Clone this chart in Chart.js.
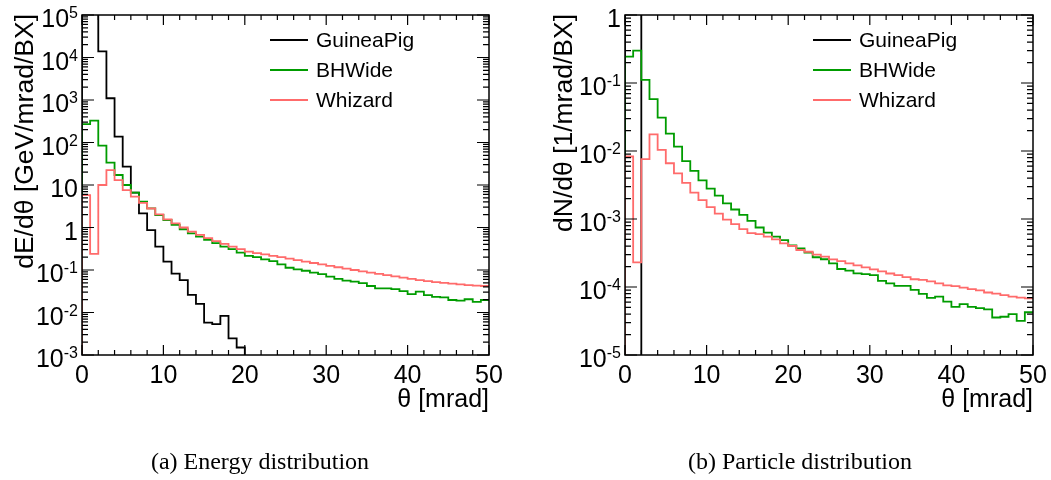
<!DOCTYPE html>
<html>
<head>
<meta charset="utf-8">
<script src="https://cdn.jsdelivr.net/npm/chart.js@4"></script>
<style>
  body { margin: 0; background: #fff; width: 1051px; height: 480px; position: relative; overflow: hidden; }
  canvas { position: absolute; top: 0; }
  #energyChart { left: 0; }
  #particleChart { left: 525px; }
  .caption { position: absolute; top: 448px; width: 400px; text-align: center;
             font: 24px "Liberation Serif", "Times New Roman", serif; line-height: 27px; color: #000; }
</style>
</head>
<body>
<canvas id="energyChart" width="525" height="480"></canvas>
<canvas id="particleChart" width="526" height="480"></canvas>
<div class="caption" style="left:60px">(a) Energy distribution</div>
<div class="caption" style="left:600px">(b) Particle distribution</div>

<script>
// bin edges in mrad (50 bins of 1 mrad)
const thetaEdges = [0, 1, 2, 3, 4, 5, 6, 7, 8, 9, 10, 11, 12, 13, 14, 15, 16, 17, 18, 19, 20,
  21, 22, 23, 24, 25, 26, 27, 28, 29, 30, 31, 32, 33, 34, 35, 36, 37, 38, 39, 40,
  41, 42, 43, 44, 45, 46, 47, 48, 49, 50];
const thetaTicks = [0, 10, 20, 30, 40, 50];

const seriesNames = ['GuineaPig', 'BHWide', 'Whizard'];
const seriesColors = ['#000000', '#009c00', '#ff6b6b'];

// empty bins: log axis cannot show 0, so they sit far below the frame
const EMPTY = 1e-12;

// (a) dE/dtheta [GeV/mrad/BX]
const energyGuineaPig = [3e5, 2e5, 1.4e4, 1.1e3, 138, 27, 6.6, 2.15, 0.87, 0.355,
  0.158, 0.082, 0.058, 0.026, 0.0159, 0.0058, 0.0053, 0.0083, 0.00245, 0.0015,
  EMPTY, EMPTY, EMPTY, EMPTY, EMPTY, EMPTY, EMPTY, EMPTY, EMPTY, EMPTY,
  EMPTY, EMPTY, EMPTY, EMPTY, EMPTY, EMPTY, EMPTY, EMPTY, EMPTY, EMPTY,
  EMPTY, EMPTY, EMPTY, EMPTY, EMPTY, EMPTY, EMPTY, EMPTY, EMPTY, EMPTY];
const energyBHWide = [272, 326, 84, 33.5, 17.2, 10, 6.6, 4.07, 2.83, 1.97,
  1.5, 1.15, 0.91, 0.73, 0.61, 0.51, 0.43, 0.355, 0.31, 0.257,
  0.215, 0.2, 0.178, 0.162, 0.136, 0.113, 0.104, 0.096, 0.087, 0.08,
  0.07, 0.062, 0.056, 0.053, 0.049, 0.042, 0.037, 0.037, 0.0355, 0.032,
  0.027, 0.031, 0.0257, 0.0234, 0.0228, 0.0197, 0.019, 0.0205, 0.0178, 0.0197];
const energyWhizard = [5.8, 0.24, 10, 22.5, 13, 7.6, 5.3, 3.8, 2.8, 2.04,
  1.55, 1.25, 1.0, 0.8, 0.67, 0.56, 0.48, 0.41, 0.355, 0.31,
  0.27, 0.25, 0.232, 0.215, 0.2, 0.185, 0.17, 0.158, 0.146, 0.135,
  0.125, 0.116, 0.108, 0.1, 0.093, 0.087, 0.081, 0.076, 0.071, 0.066,
  0.062, 0.058, 0.055, 0.052, 0.05, 0.048, 0.046, 0.044, 0.043, 0.042];
const energyTicks = [1e-3, 1e-2, 1e-1, 1, 10, 1e2, 1e3, 1e4, 1e5];
const energyTickLabels = ['10^-3', '10^-2', '10^-1', '1', '10', '10^2', '10^3', '10^4', '10^5'];

// (b) dN/dtheta [1/mrad/BX]
const particleGuineaPig = [2, 2, EMPTY, EMPTY, EMPTY, EMPTY, EMPTY, EMPTY, EMPTY, EMPTY,
  EMPTY, EMPTY, EMPTY, EMPTY, EMPTY, EMPTY, EMPTY, EMPTY, EMPTY, EMPTY,
  EMPTY, EMPTY, EMPTY, EMPTY, EMPTY, EMPTY, EMPTY, EMPTY, EMPTY, EMPTY,
  EMPTY, EMPTY, EMPTY, EMPTY, EMPTY, EMPTY, EMPTY, EMPTY, EMPTY, EMPTY,
  EMPTY, EMPTY, EMPTY, EMPTY, EMPTY, EMPTY, EMPTY, EMPTY, EMPTY, EMPTY];
const particleBHWide = [0.244, 0.3, 0.111, 0.058, 0.031, 0.018, 0.0116, 0.0071, 0.0051, 0.0037,
  0.0028, 0.0022, 0.0017, 0.00138, 0.00115, 0.00094, 0.00075, 0.00063, 0.00055, 0.00049,
  0.00041, 0.00037, 0.00032, 0.000274, 0.000256, 0.000223, 0.000184, 0.000174, 0.000159, 0.000155,
  0.00015, 0.000123, 0.000113, 0.000104, 0.000104, 0.000091, 0.000079, 0.000069, 0.000072, 0.000061,
  0.000051, 0.000056, 0.000051, 0.000049, 0.000047, 0.0000356, 0.0000365, 0.00004, 0.0000318, 0.0000425];
const particleWhizard = [0.0083, 0.00023, 0.0076, 0.0176, 0.0104, 0.0066, 0.0047, 0.0034, 0.00245, 0.0019,
  0.00149, 0.0012, 0.00098, 0.00084, 0.00071, 0.00062, 0.0006, 0.00055, 0.000502, 0.000439,
  0.000401, 0.00035, 0.00033, 0.000299, 0.000279, 0.000255, 0.00024, 0.000223, 0.000208, 0.000194,
  0.000182, 0.00017, 0.000158, 0.000149, 0.00014, 0.00013, 0.000127, 0.000121, 0.000113, 0.000106,
  0.000103, 0.000098, 0.000093, 0.000089, 0.000083, 0.00008, 0.000076, 0.000072, 0.00007, 0.000068];
const particleTicks = [1e-5, 1e-4, 1e-3, 1e-2, 1e-1, 1];
const particleTickLabels = ['10^-5', '10^-4', '10^-3', '10^-2', '10^-1', '1'];

const SANS = '"Liberation Sans", Arial, Helvetica, sans-serif';

// histogram outline: start on the baseline, one point per bin, close at the last edge
function histPoints(vals) {
  const pts = [{ x: thetaEdges[0], y: EMPTY }];
  vals.forEach((v, i) => pts.push({ x: thetaEdges[i], y: v }));
  pts.push({ x: thetaEdges[vals.length], y: vals[vals.length - 1] });
  return pts;
}

const rootFrame = {
  id: 'rootFrame',
  afterDraw(chart, args, opts) {
    const { ctx, chartArea: a, scales: { x, y } } = chart;
    ctx.save();
    ctx.strokeStyle = '#000';
    ctx.lineWidth = 1.5;
    ctx.strokeRect(a.left, a.top, a.right - a.left, a.bottom - a.top);

    // inward ticks on all four sides
    ctx.lineWidth = 1.2;
    ctx.beginPath();
    for (let t = x.min; t <= x.max; t += 2) {
      const px = x.getPixelForValue(t);
      const len = t % 10 === 0 ? 10 : 5;
      ctx.moveTo(px, a.bottom); ctx.lineTo(px, a.bottom - len);
      ctx.moveTo(px, a.top); ctx.lineTo(px, a.top + len);
    }
    opts.ticks.forEach(dec => {
      for (let m = 1; m <= 9; m++) {
        const v = dec * m;
        if (v > y.max * 1.0001) break;
        const py = y.getPixelForValue(v);
        const len = m === 1 ? 12 : 6;
        ctx.moveTo(a.left, py); ctx.lineTo(a.left + len, py);
        ctx.moveTo(a.right, py); ctx.lineTo(a.right - len, py);
      }
    });
    ctx.stroke();

    ctx.fillStyle = '#000';
    // x tick labels
    ctx.font = '25px ' + SANS;
    ctx.textAlign = 'center';
    ctx.textBaseline = 'alphabetic';
    thetaTicks.forEach(t => ctx.fillText(String(t), x.getPixelForValue(t), a.bottom + 28));

    // y tick labels with superscript exponents
    ctx.textAlign = 'right';
    opts.ticks.forEach((v, i) => {
      const py = y.getPixelForValue(v);
      const [base, exp] = opts.labels[i].split('^');
      const xr = a.left - 4;
      if (exp) {
        ctx.font = '16px ' + SANS;
        ctx.fillText(exp, xr, py + 3);
        const ew = ctx.measureText(exp).width;
        ctx.font = '25px ' + SANS;
        ctx.fillText(base, xr - ew, py + 12);
      } else {
        ctx.font = '25px ' + SANS;
        ctx.fillText(base, xr, py + 12);
      }
    });

    // axis titles, right / top aligned like ROOT
    ctx.font = '25px ' + SANS;
    ctx.textAlign = 'right';
    ctx.fillText('θ [mrad]', a.right, a.bottom + 52);
    ctx.save();
    ctx.font = '26.5px ' + SANS;
    ctx.translate(opts.titleX, a.top - 1);
    ctx.rotate(-Math.PI / 2);
    ctx.textAlign = 'right';
    ctx.fillText(opts.yTitle, 0, 0);
    ctx.restore();

    // legend
    ctx.font = '21px ' + SANS;
    ctx.textAlign = 'left';
    ctx.textBaseline = 'middle';
    seriesNames.forEach((name, i) => {
      const ly = a.top + 25 + i * 30;
      ctx.strokeStyle = seriesColors[i];
      ctx.lineWidth = 1.8;
      ctx.beginPath();
      ctx.moveTo(a.left + 188, ly); ctx.lineTo(a.left + 226, ly);
      ctx.stroke();
      ctx.fillText(name, a.left + 234, ly + 1);
    });
    ctx.restore();
  }
};

function drawPanel(id, series, yMin, yMax, ticks, labels, yTitle, pad, titleX) {
  new Chart(document.getElementById(id), {
    type: 'line',
    data: {
      datasets: series.map((vals, i) => ({
        label: seriesNames[i],
        data: histPoints(vals),
        borderColor: seriesColors[i],
        borderWidth: 1.8,
        pointRadius: 0,
        fill: false,
        stepped: 'before',
        order: 2 - i
      }))
    },
    options: {
      responsive: false,
      animation: false,
      layout: { padding: pad },
      plugins: {
        legend: { display: false },
        tooltip: { enabled: false },
        rootFrame: { ticks, labels, yTitle, titleX }
      },
      scales: {
        x: { type: 'linear', min: 0, max: 50, display: false },
        y: { type: 'logarithmic', min: yMin, max: yMax, display: false }
      }
    },
    plugins: [rootFrame]
  });
}

drawPanel('energyChart', [energyGuineaPig, energyBHWide, energyWhizard], 1e-3, 1e5,
  energyTicks, energyTickLabels, 'dE/dθ [GeV/mrad/BX]',
  { left: 82, right: 36, top: 15, bottom: 125 }, 33);
drawPanel('particleChart', [particleGuineaPig, particleBHWide, particleWhizard], 1e-5, 1,
  particleTicks, particleTickLabels, 'dN/dθ [1/mrad/BX]',
  { left: 100, right: 18, top: 15, bottom: 125 }, 47);
</script>
</body>
</html>
